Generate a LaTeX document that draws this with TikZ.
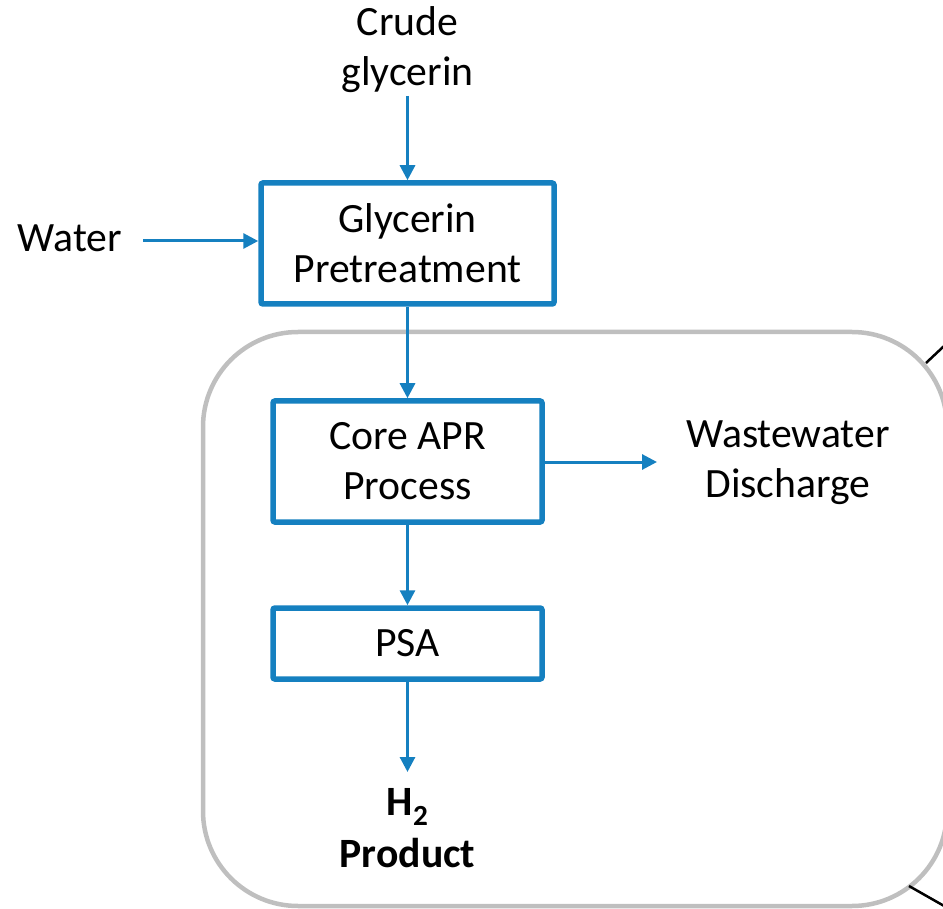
\documentclass[tikz,border=0pt]{standalone}
\usepackage{fontspec}
\setmainfont{Carlito}
\usetikzlibrary{arrows.meta}
\definecolor{flowblue}{HTML}{1580C0}
\definecolor{framegray}{HTML}{BFBFBF}
\tikzset{
  procbox/.style={draw=flowblue, line width=5.5pt, rounded corners=2pt, fill=white, align=center, inner sep=0pt},
  flowarrow/.style={draw=flowblue, line width=3pt, -{Triangle[length=15pt,width=15pt]}},
  lbl/.style={align=center, inner sep=0pt},
  txt/.style={font=\fontsize{41.7}{50}\selectfont}
}
\begin{document}
\begin{tikzpicture}[x=1pt,y=-1pt, every node/.style={txt}]
\useasboundingbox (0,0) rectangle (943,909);
\begin{scope}
\clip (0,0) rectangle (943,909);
\draw[framegray, line width=4.5pt, rounded corners=95pt] (203,332) rectangle (947,906);
\coordinate (lt) at (926,363);
\coordinate (lte) at (960,331);
\coordinate (lb) at (909,886);
\coordinate (lbe) at (960,915);
\draw[black, line width=2.5pt] (lt) -- (lte);
\draw[black, line width=2.5pt] (lb) -- (lbe);
\end{scope}

\node[lbl] (crude) at (407.5,50) {Crude\\glycerin};
\node[lbl] (water) at (70,238) {Water};
\node[procbox, minimum width=293pt, minimum height=121pt] (pre) at (407.5,243.5) {Glycerin\\Pretreatment};
\node[procbox, minimum width=269pt, minimum height=121pt] (core) at (407.5,461.5) {Core APR\\Process};
\node[procbox, minimum width=269pt, minimum height=71pt] (psa) at (407.5,643.5) {PSA};
\node[lbl] (ww) at (788,463) {Wastewater\\Discharge};
\node[lbl, font=\fontsize{41.7}{52}\selectfont\bfseries] (h2) at (407.5,828) {H\textsubscript{2}\\Product};

\coordinate (crudeout) at (407.5,96);
\coordinate (waterout) at (143,241);
\coordinate (wwin) at (657,462);
\coordinate (h2in) at (407.5,772);

\draw[flowarrow] (crudeout) -- (pre.north);
\draw[flowarrow] (waterout) -- (pre.west |- waterout);
\draw[flowarrow] (pre.south) -- (core.north);
\draw[flowarrow] (core.east |- wwin) -- (wwin);
\draw[flowarrow] (core.south) -- (psa.north);
\draw[flowarrow] (psa.south) -- (h2in);
\end{tikzpicture}
\end{document}
